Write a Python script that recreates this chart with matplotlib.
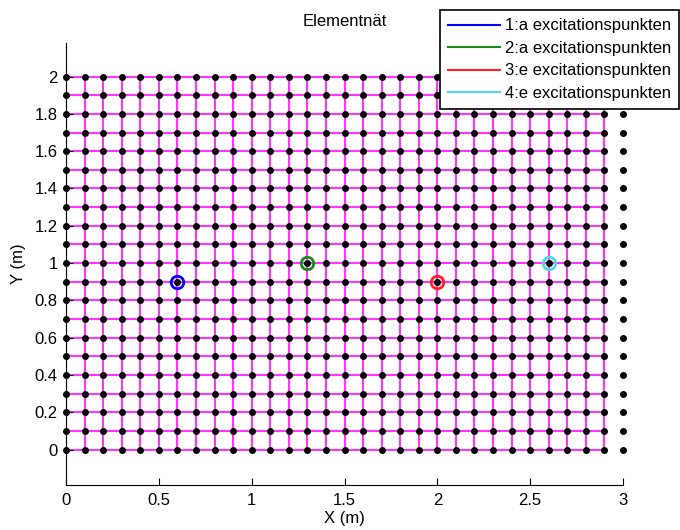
import matplotlib
matplotlib.use("Agg")
import matplotlib.pyplot as plt
import matplotlib.lines as mlines

plt.rcParams["font.family"] = ["Liberation Sans", "DejaVu Sans"]

# mesh node coordinates (m)
x_nodes = [0.0, 0.1, 0.2, 0.3, 0.4, 0.5, 0.6, 0.7, 0.8, 0.9, 1.0,
           1.1, 1.2, 1.3, 1.4, 1.5, 1.6, 1.7, 1.8, 1.9, 2.0,
           2.1, 2.2, 2.3, 2.4, 2.5, 2.6, 2.7, 2.8, 2.9, 3.0]
y_nodes = [0.0, 0.1, 0.2, 0.3, 0.4, 0.5, 0.6, 0.7, 0.8, 0.9, 1.0,
           1.1, 1.2, 1.3, 1.4, 1.5, 1.6, 1.7, 1.8, 1.9, 2.0]

# excitation points
exc_x = [0.6, 1.3, 2.0, 2.6]
exc_y = [0.9, 1.0, 0.9, 1.0]
exc_labels = ["1:a excitationspunkten", "2:a excitationspunkten",
              "3:e excitationspunkten", "4:e excitationspunkten"]
exc_colors = ["#0000ff", "#1a8a1a", "#ff2020", "#50d8e0"]

fig = plt.figure(figsize=(6.8, 5.3), dpi=100)
ax = fig.add_axes([66 / 680, 1 - 485 / 530, (623 - 66) / 680, (485 - 43) / 530])

# element edges: last column of nodes has no edges drawn
x_el = x_nodes[:-1]
for y in y_nodes:
    ax.plot([x_el[0], x_el[-1]], [y, y], color="#ff33ff", lw=1.5, zorder=1)
for x in x_el:
    ax.plot([x, x], [y_nodes[0], y_nodes[-1]], color="#ff33ff", lw=1.5, zorder=1)

# nodes
for x in x_nodes:
    ax.plot([x] * len(y_nodes), y_nodes, ls="none", marker="o",
            color="black", ms=4, zorder=3, clip_on=False)

for x, y, c in zip(exc_x, exc_y, exc_colors):
    ax.plot(x, y, ls="none", marker="o", mfc="none", mec=c, ms=9, mew=2, zorder=4)

ax.set_xlim(0, 3)
ax.set_ylim(-0.19, 2.18)
ax.set_xticks([0, 0.5, 1, 1.5, 2, 2.5, 3])
ax.set_xticklabels(["0", "0.5", "1", "1.5", "2", "2.5", "3"])
ax.set_yticks([0, 0.2, 0.4, 0.6, 0.8, 1, 1.2, 1.4, 1.6, 1.8, 2])
ax.set_yticklabels(["0", "0.2", "0.4", "0.6", "0.8", "1", "1.2", "1.4", "1.6", "1.8", "2"])
ax.tick_params(direction="in", length=5, labelsize=12, colors="black", pad=6)
for s in ["top", "right"]:
    ax.spines[s].set_visible(False)
ax.set_xlabel("X (m)", fontsize=12, labelpad=2)
ax.set_ylabel("Y (m)", fontsize=12, labelpad=6)
ax.set_title("Elementnät", fontsize=12, pad=12)

handles = [mlines.Line2D([], [], color=c, lw=1.5) for c in exc_colors]
leg = fig.legend(handles, exc_labels, loc="upper right",
                 bbox_to_anchor=(0.999, 0.981), fontsize=12,
                 fancybox=False, framealpha=1, edgecolor="black",
                 handlelength=3.1, borderpad=0.5, labelspacing=0.45,
                 handletextpad=0.3, borderaxespad=0)
leg.get_frame().set_linewidth(1.2)
leg.set_zorder(10)

fig.savefig("out.png", dpi=100)
